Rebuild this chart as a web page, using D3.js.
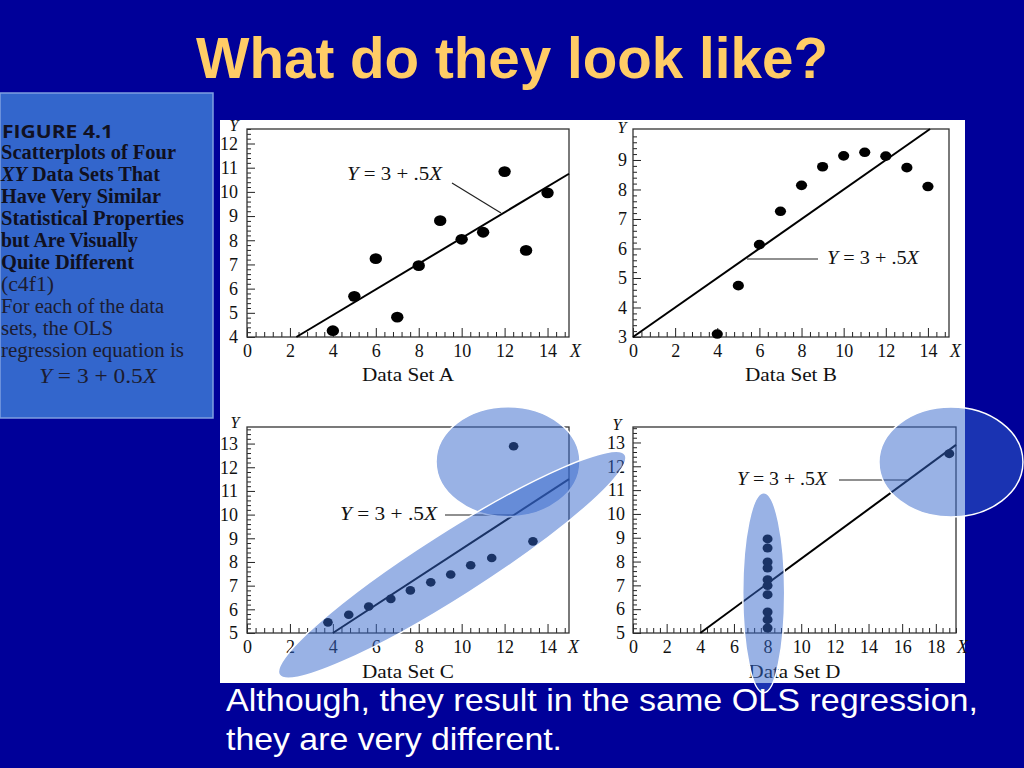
<!DOCTYPE html>
<html><head><meta charset="utf-8">
<script src="https://cdn.jsdelivr.net/npm/d3@7"></script>
<style>html,body{margin:0;padding:0;background:#000099;overflow:hidden}</style>
</head><body>
<svg id="c" width="1024" height="768"></svg>
<script>
// ---------- DATA ----------
const xA = [4,5,6,7,8,9,10,11,12,13,14];
const yA = [4.26,5.68,7.24,4.82,6.95,8.81,8.04,8.33,10.84,7.58,9.96];
const xB = [4,5,6,7,8,9,10,11,12,13,14];
const yB = [3.10,4.74,6.13,7.26,8.14,8.77,9.14,9.26,9.13,8.74,8.10];
const xC = [3.77,4.74,5.67,6.70,7.61,8.56,9.49,10.42,11.40,12.42,13.32];
const yC = [5.45,5.77,6.12,6.44,6.80,7.14,7.47,7.86,8.17,12.89,8.87];
const xD = [8,8,8,8,8,8,8,8,8,8,18.8];
const yD = [8.95,8.57,7.98,7.73,7.24,6.99,6.61,5.88,5.56,5.21,12.53];
// regression lines as drawn in the figure (endpoints x, y)
const lineAx = [2.3,15],  lineAy = [4,10.75];
const lineBx = [0,14.1],  lineBy = [3,10.05];
const lineCx = [4,15],    lineCy = [5,11.5];
const lineDx = [4,19.2],  lineDy = [5,12.9];
// tick labels
const xTicks14 = [0,2,4,6,8,10,12,14];
const xTicks18 = [0,2,4,6,8,10,12,14,16,18];
const yTicksA = [4,5,6,7,8,9,10,11,12];
const yTicksB = [3,4,5,6,7,8,9];
const yTicksCD = [5,6,7,8,9,10,11,12,13];
const panelNames = ["Data Set A","Data Set B","Data Set C","Data Set D"];

// ---------- DRAW ----------
const svg = d3.select("#c");
const SERIF = "'Liberation Serif','Times New Roman',serif";
const SANS = "'Liberation Sans',Arial,sans-serif";
svg.append("rect").attr("width",1024).attr("height",768).attr("fill","#000099");

// title
svg.append("text").attr("x",512).attr("y",78).attr("text-anchor","middle")
  .attr("font-family",SANS).attr("font-weight","bold").attr("font-size",58)
  .attr("fill","#FFCC66").attr("textLength",632).attr("lengthAdjust","spacingAndGlyphs")
  .text("What do they look like?");

// caption box
svg.append("rect").attr("x",0).attr("y",93).attr("width",213).attr("height",325)
  .attr("fill","#3366CC").attr("stroke","#7f9fe0").attr("stroke-width",1.5);
const cap = svg.append("g");
cap.append("text").attr("x",2).attr("y",138).attr("font-family","'Open Sans','DejaVu Sans',sans-serif")
  .attr("font-weight","bold").attr("font-size",18).attr("fill","#111122")
  .attr("textLength",111).attr("lengthAdjust","spacingAndGlyphs").text("FIGURE 4.1");
const capLines = [
  {t:"Scatterplots of Four", y:159, w:175, b:true},
  {t:"XY| Data Sets That", y:181, w:159, b:true},
  {t:"Have Very Similar", y:203, w:160, b:true},
  {t:"Statistical Properties", y:225, w:183, b:true},
  {t:"but Are Visually", y:247, w:137, b:true},
  {t:"Quite Different", y:269, w:133, b:true},
  {t:"(c4f1)", y:291, w:53, b:false},
  {t:"For each of the data", y:313, w:163, b:false},
  {t:"sets, the OLS", y:335, w:112, b:false},
  {t:"regression equation is", y:357, w:183, b:false}
];
capLines.forEach(l=>{
  const t = cap.append("text").attr("x",1).attr("y",l.y).attr("font-family",SERIF)
    .attr("font-size",20).attr("font-weight",l.b?"bold":"normal")
    .attr("fill",l.b?"#101020":"#1c1c30")
    .attr("textLength",l.w).attr("lengthAdjust","spacingAndGlyphs");
  if (l.t.includes("|")) {
    const [a,b] = l.t.split("|");
    t.append("tspan").attr("font-style","italic").text(a);
    t.append("tspan").text(b);
  } else t.text(l.t);
});
{
  const t = cap.append("text").attr("x",39).attr("y",383).attr("font-family",SERIF)
    .attr("font-size",20).attr("fill","#1c1c30").attr("textLength",118).attr("lengthAdjust","spacingAndGlyphs")
    .attr("xml:space","preserve");
  t.append("tspan").attr("font-style","italic").text("Y");
  t.append("tspan").text(" = 3 + 0.5");
  t.append("tspan").attr("font-style","italic").text("X");
}

// white figure area
svg.append("rect").attr("x",220).attr("y",120).attr("width",745).attr("height",563).attr("fill","#ffffff");

const panels = [
  {name:panelNames[0], xs:xA, ys:yA, xd:[0,15], yd:[4,12.6], px:[247,569], py:[337,129],
   xt:xTicks14, yt:yTicksA, lx:lineAx, ly:lineAy, r:[6.2,5.4],
   xPad:7.2, yPad:9, Yx:-13, Yy:131, Xx:570, nameY:381},
  {name:panelNames[1], xs:xB, ys:yB, xd:[0,15], yd:[3,10.05], px:[633,949], py:[337,129],
   xt:xTicks14, yt:yTicksB, lx:lineBx, ly:lineBy, r:[5.6,4.8],
   xPad:7, yPad:6, Yx:-11, Yy:133, Xx:950, nameY:381},
  {name:panelNames[2], xs:xC, ys:yC, xd:[0,15], yd:[5,13.7], px:[247,569], py:[633,427],
   xt:xTicks14, yt:yTicksCD, lx:lineCx, ly:lineCy, r:[4.8,4.3],
   xPad:7, yPad:9, Yx:-12, Yy:428, Xx:568, nameY:678},
  {name:panelNames[3], xs:xD, ys:yD, xd:[0,19.2], yd:[5,13.65], px:[633,956], py:[633,427],
   xt:xTicks18, yt:yTicksCD, lx:lineDx, ly:lineDy, r:[5,4.5],
   xPad:7, yPad:8, Yx:-16, Yy:430, Xx:957, nameY:678}
];

function eq(g, x, y, len){
  const t = g.append("text").attr("x",x).attr("y",y).attr("font-family",SERIF).attr("font-size",18)
    .attr("fill","#111").attr("textLength",len).attr("lengthAdjust","spacingAndGlyphs")
    .attr("xml:space","preserve");
  t.append("tspan").attr("font-style","italic").text("Y");
  t.append("tspan").text(" = 3 + .5");
  t.append("tspan").attr("font-style","italic").text("X");
}

const scales = [];
panels.forEach((p,i)=>{
  const g = svg.append("g");
  const x = d3.scaleLinear().domain(p.xd).range(p.px);
  const y = d3.scaleLinear().domain(p.yd).range(p.py);
  scales.push({x,y});
  const bottom = p.py[0], left = p.px[0];
  // minor ticks
  const xMinor = d3.range(0, p.xd[1]+1e-9, 0.4).filter(v=>Math.abs(v/2-Math.round(v/2))>1e-6);
  const yMinor = d3.range(p.yd[0], p.yd[1]+1e-9, 0.2).filter(v=>Math.abs(v-Math.round(v))>1e-6);
  const axMinor = g.append("g").attr("transform",`translate(0,${bottom})`)
    .call(d3.axisBottom(x).tickValues(xMinor).tickSize(-5).tickFormat(""));
  const axMajor = g.append("g").attr("transform",`translate(0,${bottom})`)
    .call(d3.axisBottom(x).tickValues(p.xt).tickSize(-9).tickPadding(p.xPad).tickFormat(d3.format("d")));
  const ayMinor = g.append("g").attr("transform",`translate(${left},0)`)
    .call(d3.axisLeft(y).tickValues(yMinor).tickSize(-4).tickFormat(""));
  const ayMajor = g.append("g").attr("transform",`translate(${left},0)`)
    .call(d3.axisLeft(y).tickValues(p.yt).tickSize(-8).tickPadding(p.yPad).tickFormat(d3.format("d")));
  [axMinor,axMajor,ayMinor,ayMajor].forEach(a=>{
    a.select(".domain").remove();
    a.selectAll("line").attr("stroke","#222").attr("stroke-width",1);
    a.selectAll("text").attr("font-family",SERIF).attr("font-size",18).attr("fill","#111");
  });
  // frame
  g.append("rect").attr("x",p.px[0]).attr("y",p.py[1]).attr("width",p.px[1]-p.px[0])
    .attr("height",p.py[0]-p.py[1]).attr("fill","none").attr("stroke","#333").attr("stroke-width",1.3);
  // axis letters
  g.append("text").attr("x",left+p.Yx).attr("y",p.Yy).attr("text-anchor","middle")
    .attr("font-family",SERIF).attr("font-style","italic").attr("font-size",16).attr("fill","#111").text("Y");
  g.append("text").attr("x",p.Xx).attr("y",bottom+p.xPad+12.8).attr("font-family",SERIF)
    .attr("font-style","italic").attr("font-size",18).attr("fill","#111").text("X");
  g.append("text").attr("x",(p.px[0]+p.px[1])/2).attr("y",p.nameY).attr("text-anchor","middle")
    .attr("font-family",SERIF).attr("font-size",19).attr("fill","#111")
    .attr("textLength",92).attr("lengthAdjust","spacingAndGlyphs").text(p.name);
  // regression line
  g.append("line").attr("x1",x(p.lx[0])).attr("y1",y(p.ly[0])).attr("x2",x(p.lx[1])).attr("y2",y(p.ly[1]))
    .attr("stroke","#000").attr("stroke-width",2);
  // points
  g.selectAll("ellipse.pt").data(p.xs.map((v,k)=>[v,p.ys[k]])).join("ellipse").attr("class","pt")
    .attr("cx",d=>x(d[0])).attr("cy",d=>y(d[1])).attr("rx",p.r[0]).attr("ry",p.r[1]).attr("fill","#000");
});

// equation annotations
const ann = svg.append("g");
eq(ann, 347, 180, 95);
ann.append("line").attr("x1",452).attr("y1",183).attr("x2",501).attr("y2",213).attr("stroke","#222").attr("stroke-width",1.2);
eq(ann, 827, 264, 92);
ann.append("line").attr("x1",747).attr("y1",259).attr("x2",818).attr("y2",259).attr("stroke","#222").attr("stroke-width",1.2);
eq(ann, 340, 520, 97);
ann.append("line").attr("x1",445).attr("y1",515).attr("x2",514).attr("y2",515).attr("stroke","#222").attr("stroke-width",1.2);
eq(ann, 737, 485, 90);
ann.append("line").attr("x1",839).attr("y1",480).attr("x2",908).attr("y2",480).attr("stroke","#222").attr("stroke-width",1.2);

// highlight ellipses (centres in panel data coords)
const sC = scales[2], sD = scales[3];
const hl = svg.append("g").attr("fill","rgba(51,102,204,0.5)").attr("stroke","#fff").attr("stroke-width",1.5);
hl.append("ellipse").attr("cx",sC.x(12.16)).attr("cy",sC.y(12.23)).attr("rx",72).attr("ry",55);
hl.append("ellipse").attr("cx",0).attr("cy",0).attr("rx",205).attr("ry",32)
  .attr("transform",`translate(${sC.x(9.56)},${sC.y(7.88)}) rotate(-32.5)`);
hl.append("ellipse").attr("cx",sD.x(7.77)).attr("cy",sD.y(6.69)).attr("rx",21).attr("ry",100);
hl.append("ellipse").attr("cx",sD.x(18.9)).attr("cy",sD.y(12.18)).attr("rx",72).attr("ry",55);

// bottom text
const bt = svg.append("g").attr("font-family",SANS).attr("font-size",32).attr("fill","#ffffff");
bt.append("text").attr("x",226).attr("y",711).attr("textLength",752).attr("lengthAdjust","spacingAndGlyphs")
  .text("Although, they result in the same OLS regression,");
bt.append("text").attr("x",226).attr("y",750).attr("textLength",336).attr("lengthAdjust","spacingAndGlyphs")
  .text("they are very different.");
</script>
</body></html>
